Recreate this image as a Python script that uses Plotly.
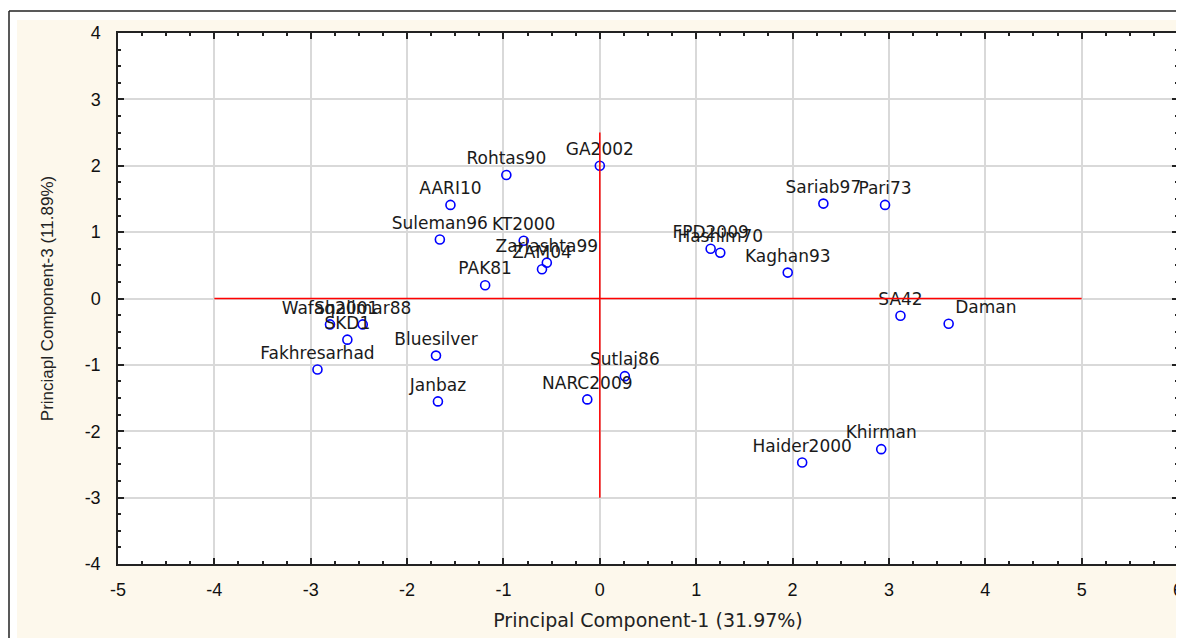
import plotly.graph_objects as go

# ---- data ----
genotypes = ["GA2002", "Rohtas90", "AARI10", "Suleman96", "KT2000", "Zarlashta99", "ZAM04",
             "PAK81", "FPD2009", "Hashim70", "Kaghan93", "Sariab97", "Pari73", "SA42", "Daman",
             "Khirman", "Haider2000", "Sutlaj86", "NARC2009", "Wafaq2001", "Shalimar88", "SKD1",
             "Fakhresarhad", "Bluesilver", "Janbaz"]
pc1 = [0.00, -0.97, -1.55, -1.66, -0.79, -0.55, -0.60, -1.19, 1.15, 1.25, 1.95, 2.32, 2.96,
       3.12, 3.62, 2.92, 2.10, 0.26, -0.13, -2.80, -2.46, -2.62, -2.93, -1.70, -1.68]
pc3 = [2.00, 1.86, 1.41, 0.89, 0.87, 0.54, 0.44, 0.20, 0.75, 0.69, 0.39, 1.43, 1.41,
       -0.26, -0.38, -2.27, -2.47, -1.17, -1.52, -0.39, -0.39, -0.62, -1.07, -0.86, -1.55]
label_positions = ["top center"] * len(genotypes)
label_positions[genotypes.index("Daman")] = "top right"

x_ticks = [-5, -4, -3, -2, -1, 0, 1, 2, 3, 4, 5, 6]
y_ticks = [-4, -3, -2, -1, 0, 1, 2, 3, 4]
h_ref_x = [-4, 5]      # horizontal red reference line (y = 0)
v_ref_y = [-3, 2.5]    # vertical red reference line (x = 0)

x_title = "Principal Component-1 (31.97%)"
y_title = "Princiapl Component-3 (11.89%)"

# ---- geometry (figure pixels; page body adds an 8px offset) ----
W, H = 1184, 638
L, R, T, B = 110, 1170, 25, 556
pw, ph = R - L, B - T


def px_x(p):
    return (p - L) / pw


def px_y(p):
    return (B - p) / ph


fig = go.Figure()
fig.add_trace(go.Scatter(
    x=pc1, y=pc3, text=genotypes, mode="markers+text",
    textposition=label_positions,
    textfont=dict(family="DejaVu Sans", size=17, color="#1a1a1a"),
    marker=dict(symbol="circle-open", size=9, color="#0000FF", line=dict(width=1.6, color="#0000FF")),
    cliponaxis=False, showlegend=False, hoverinfo="text",
))

shapes = []
shapes.append(dict(type="line", xref="x", yref="y", x0=h_ref_x[0], x1=h_ref_x[1], y0=0, y1=0,
                   line=dict(color="#FF0000", width=1.5), layer="above"))
shapes.append(dict(type="line", xref="x", yref="y", x0=0, x1=0, y0=v_ref_y[0], y1=v_ref_y[1],
                   line=dict(color="#FF0000", width=1.5), layer="above"))
# white bands outside the outer frame
shapes.append(dict(type="rect", xref="paper", yref="paper", x0=px_x(-5), x1=px_x(W + 5),
                   y0=px_y(12), y1=px_y(-5), fillcolor="white", line=dict(width=0), layer="above"))
shapes.append(dict(type="rect", xref="paper", yref="paper", x0=px_x(-5), x1=px_x(9),
                   y0=px_y(H + 5), y1=px_y(-5), fillcolor="white", line=dict(width=0), layer="above"))
# outer frame lines
shapes.append(dict(type="line", xref="paper", yref="paper", x0=px_x(1), x1=px_x(W + 5),
                   y0=px_y(3), y1=px_y(3), line=dict(color="#222222", width=1.5), layer="above"))
shapes.append(dict(type="line", xref="paper", yref="paper", x0=px_x(1), x1=px_x(1),
                   y0=px_y(3), y1=px_y(H + 5), line=dict(color="#222222", width=1.5), layer="above"))

axis_common = dict(
    showgrid=True, gridcolor="#d9d9d9", gridwidth=1.5, zeroline=False,
    showline=True, linecolor="#222222", linewidth=1.5, mirror="allticks",
    ticks="inside", ticklen=6, tickwidth=2, tickcolor="#222222",
    minor=dict(dtick=0.25, ticks="inside", ticklen=3, tickwidth=1.5, tickcolor="#222222", showgrid=False),
    tickfont=dict(size=18, family="Liberation Sans, Arial", color="#111111"),
    automargin=False, ticklabeloverflow="allow",
)

fig.update_layout(
    width=W, height=H,
    margin=dict(l=L, r=W - R, t=T, b=H - B, autoexpand=False),
    paper_bgcolor="#FDF8EC", plot_bgcolor="white",
    shapes=shapes,
    font=dict(family="Liberation Sans, Arial", color="#111111"),
    xaxis=dict(
        range=[-5, 6], tickvals=x_ticks, ticktext=[str(v) for v in x_ticks],
        ticklabelstandoff=9,
        title=dict(text=x_title, font=dict(size=19, family="DejaVu Sans", color="#222222"), standoff=14),
        **axis_common,
    ),
    yaxis=dict(
        range=[-4, 4], tickvals=y_ticks, ticktext=[str(v) for v in y_ticks],
        ticklabelstandoff=12,
        title=dict(text=y_title, font=dict(size=17, family="Liberation Sans, Arial", color="#222222"), standoff=27),
        **axis_common,
    ),
)

fig.write_html("out.html")
